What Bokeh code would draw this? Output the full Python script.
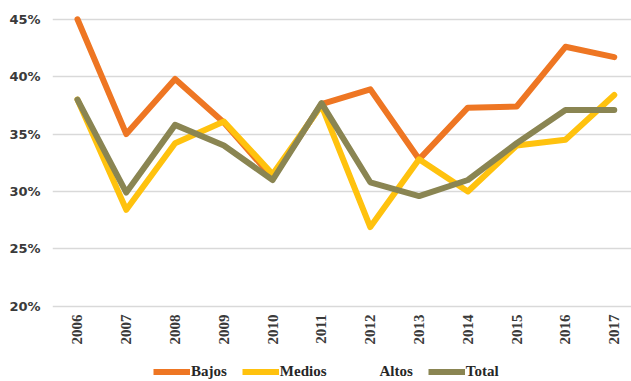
import math
from bokeh.plotting import figure
from bokeh.layouts import column
from bokeh.models import (Range1d, FixedTicker, PrintfTickFormatter, Legend,
                          LegendItem, ColumnDataSource)
from bokeh.embed import file_html
from bokeh.resources import INLINE

# Share of each income group, percent, by year
years = [2006, 2007, 2008, 2009, 2010, 2011, 2012, 2013, 2014, 2015, 2016, 2017]
bajos = [45.0, 35.0, 39.8, 36.0, 31.2, 37.6, 38.9, 32.8, 37.3, 37.4, 42.6, 41.7]
medios = [38.0, 28.4, 34.2, 36.1, 31.5, 37.5, 26.9, 32.8, 30.0, 34.0, 34.5, 38.4]
altos = []
total = [38.0, 29.9, 35.8, 34.0, 31.0, 37.7, 30.8, 29.6, 31.0, 34.2, 37.1, 37.1]
y_ticks = [20, 25, 30, 35, 40, 45]

series = [
    ("Bajos", bajos, "#EE7623"),
    ("Medios", medios, "#FFC20E"),
    ("Altos", altos, "#FFFFFF"),
    ("Total", total, "#8A8552"),
]

p = figure(width=631, height=350, output_backend="svg", toolbar_location=None,
           x_range=Range1d(2005.488, 2017.353), y_range=Range1d(19.72, 45.5),
           min_border_left=52, min_border_right=0, min_border_top=13,
           min_border_bottom=41)
p.outline_line_color = None
p.background_fill_color = "white"
p.border_fill_color = "white"

for name, vals, color in series:
    src = ColumnDataSource(dict(x=years[:len(vals)], y=vals))
    p.line("x", "y", source=src, line_color=color, line_width=6,
           line_join="round", line_cap="round")

# Axes
for ax in (p.xaxis, p.yaxis):
    ax.axis_line_color = None
    ax.major_tick_line_color = None
    ax.minor_tick_line_color = None
    ax.major_tick_out = 0
    ax.major_tick_in = 0
    ax.minor_tick_out = 0
    ax.minor_tick_in = 0

p.xaxis.ticker = FixedTicker(ticks=years)
p.xaxis.major_label_orientation = math.pi / 2
p.xaxis.major_label_standoff = 5
p.xaxis.major_label_text_font = "Liberation Serif"
p.xaxis.major_label_text_font_style = "bold"
p.xaxis.major_label_text_font_size = "15px"
p.xaxis.major_label_text_color = "#3a3a3a"

p.yaxis.ticker = FixedTicker(ticks=y_ticks)
p.yaxis.formatter = PrintfTickFormatter(format="%d%%")
p.yaxis.major_label_standoff = 12
p.yaxis.major_label_text_font = "DejaVu Sans"
p.yaxis.major_label_text_font_style = "bold"
p.yaxis.major_label_text_font_size = "13px"
p.yaxis.major_label_text_color = "#3a3a3a"

p.xgrid.grid_line_color = None
p.ygrid.grid_line_color = "#d9d9d9"
p.ygrid.grid_line_width = 1.5

# Legend strip underneath the chart; its lines sit outside the strip's ranges
# so only the legend swatches show
leg = figure(width=631, height=31, output_backend="svg", toolbar_location=None,
             x_axis_location=None, y_axis_location=None,
             x_range=Range1d(0, 1), y_range=Range1d(0, 1),
             min_border_left=0, min_border_right=0, min_border_top=0,
             min_border_bottom=0)
leg.outline_line_color = None
leg.xgrid.grid_line_color = None
leg.ygrid.grid_line_color = None

items = []
for name, vals, color in series:
    src = ColumnDataSource(dict(x=years[:len(vals)], y=vals))
    r = leg.line("x", "y", source=src, line_color=color, line_width=6)
    items.append(LegendItem(label=name, renderers=[r]))

legend = Legend(items=items, orientation="horizontal", location=(101, 1),
                label_text_font="Liberation Serif", label_text_font_style="bold",
                label_text_font_size="15px", label_text_color="#262626",
                glyph_width=37, glyph_height=17, spacing=15, padding=0,
                label_standoff=1, label_height=17, border_line_color=None,
                background_fill_alpha=0, margin=0)
leg.add_layout(legend)

layout = column(p, leg, spacing=0)
open("out.html", "w").write(file_html(layout, INLINE))
